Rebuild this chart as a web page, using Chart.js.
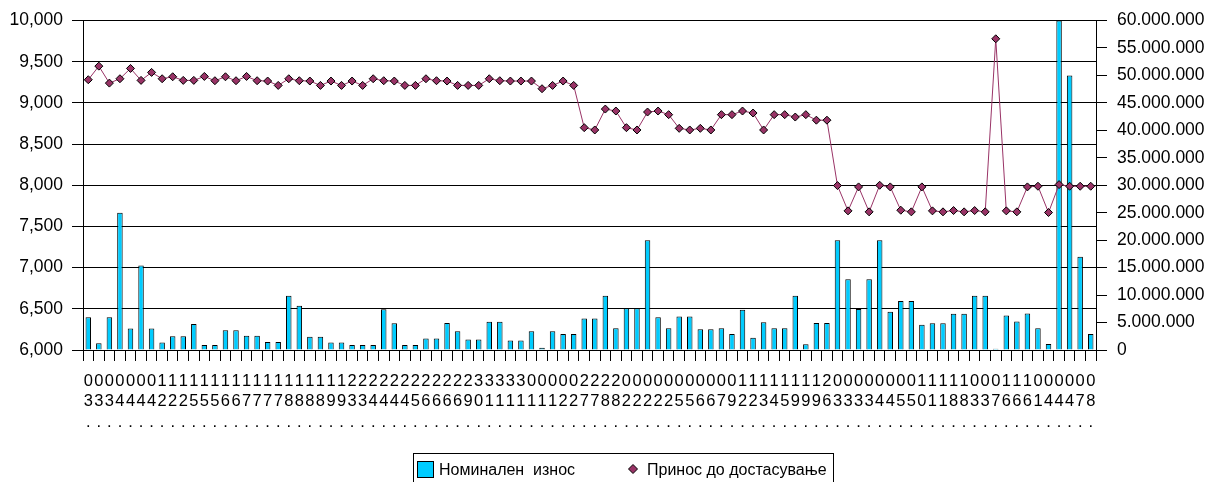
<!DOCTYPE html>
<html>
<head>
<meta charset="utf-8">
<title>Номинален износ / Принос до достасување</title>
<script src="https://cdn.jsdelivr.net/npm/chart.js@4/dist/chart.umd.min.js"></script>
<style>
  body { margin: 0; background: #fff; }
  #wrap { width: 1221px; height: 482px; position: relative; }
</style>
</head>
<body>
<div id="wrap"><canvas id="myChart"></canvas></div>
<script>
'use strict';

// DATA
// day part of each auction date (only "dd." is readable on the axis)
let dayLabels = [
  '03', '03', '03', '04', '04', '04', '04', '12', '12', '12', '15', '15', '15', '16',
  '16', '17', '17', '17', '17', '18', '18', '18', '18', '19', '19', '23', '23', '24',
  '24', '24', '24', '25', '26', '26', '26', '26', '29', '30', '31', '31', '31', '31',
  '01', '01', '01', '02', '02', '27', '27', '28', '28', '02', '02', '02', '02', '02',
  '05', '05', '06', '06', '07', '09', '12', '12', '13', '14', '15', '19', '19', '19',
  '26', '03', '03', '03', '03', '04', '04', '05', '05', '10', '11', '11', '18', '18',
  '03', '03', '07', '16', '16', '16', '01', '04', '04', '04', '07', '08'
];

// Номинален износ (bars, right axis)
let nominalAmount = [
  5950000, 1250000, 5950000, 25000000, 3900000, 15400000, 3900000, 1350000,
  2500000, 2500000, 4750000, 900000, 900000, 3600000, 3600000, 2600000,
  2600000, 1450000, 1450000, 9900000, 8050000, 2400000, 2400000, 1350000,
  1350000, 900000, 900000, 900000, 7400000, 4850000, 900000, 900000,
  2100000, 2100000, 4900000, 3400000, 1900000, 1900000, 5150000, 5150000,
  1750000, 1750000, 3400000, 400000, 3400000, 2900000, 2900000, 5750000,
  5750000, 9900000, 3950000, 7600000, 7600000, 20000000, 5950000, 3950000,
  6100000, 6100000, 3800000, 3800000, 3950000, 2900000, 7350000, 2250000,
  5050000, 3950000, 3950000, 9900000, 1050000, 4900000, 4900000, 20000000,
  12900000, 7450000, 12900000, 20000000, 6950000, 8900000, 8900000, 4600000,
  4850000, 4850000, 6600000, 6600000, 9900000, 9900000, 250000, 6300000,
  5200000, 6650000, 3950000, 1100000, 60000000, 50000000, 17000000, 2900000
];

// Принос до достасување (line, left axis)
let yieldToMaturity = [
  9281, 9446, 9240, 9293, 9418, 9273, 9370, 9293, 9317, 9273, 9273, 9321,
  9269, 9317, 9269, 9321, 9269, 9265, 9212, 9293, 9269, 9265, 9212, 9265,
  9212, 9265, 9212, 9293, 9269, 9265, 9212, 9212, 9293, 9269, 9265, 9212,
  9212, 9212, 9293, 9269, 9265, 9265, 9265, 9172, 9212, 9265, 9212, 8699,
  8671, 8925, 8901, 8699, 8671, 8889, 8901, 8857, 8691, 8671, 8691, 8671,
  8857, 8857, 8901, 8877, 8671, 8857, 8857, 8828, 8857, 8790, 8790, 7996,
  7689, 7980, 7677, 8000, 7980, 7697, 7677, 7980, 7689, 7677, 7693, 7677,
  7693, 7677, 9778, 7689, 7677, 7980, 7988, 7669, 8008, 7988, 7988, 7988
];

// axis ranges
let leftMin = 6000;
let leftMax = 10000;
let leftStep = 500;
let rightMin = 0;
let rightMax = 60000000;
let rightStep = 5000000;

let fontFamily = '"Liberation Sans", Arial, sans-serif';

// HELPERS
function commaFormat(value) {
  return Number(value).toLocaleString('en-US');
}

function dotFormat(value) {
  return String(value).replace(/\B(?=(\d{3})+(?!\d))/g, '.');
}

// legend drawn as a framed box under the axis, like the spreadsheet one
const legendBox = {
  id: 'legendBox',
  afterDraw(chart) {
    let ctx = chart.ctx;
    let bars = chart.data.datasets[0];
    let line = chart.data.datasets[1];

    ctx.save();
    ctx.lineWidth = 1;
    ctx.strokeStyle = '#000';
    ctx.strokeRect(413.5, 453.5, 420, 40);

    ctx.fillStyle = bars.backgroundColor;
    ctx.fillRect(417.5, 461.5, 16, 16);
    ctx.strokeRect(417.5, 461.5, 16, 16);

    ctx.fillStyle = line.pointBackgroundColor;
    ctx.strokeStyle = line.pointBorderColor;
    Chart.helpers.drawPoint(ctx, { pointStyle: 'rectRot', radius: 4.5, borderWidth: 1, rotation: 0 }, 633, 469);

    ctx.fillStyle = '#000';
    ctx.font = '16px ' + fontFamily;
    ctx.textBaseline = 'alphabetic';
    ctx.textAlign = 'left';
    ctx.fillText(bars.label, 439, 475);
    ctx.fillText(line.label, 647, 475);
    ctx.restore();
  }
};

// CHART
let canvasElem = document.getElementById('myChart').getContext('2d');

let myChartObj = {
  type: 'bar',
  data: {
    labels: dayLabels.map(d => [d[0], d[1], '.']),
    datasets: [
      {
        label: 'Номинален  износ',
        data: nominalAmount,
        yAxisID: 'y1',
        backgroundColor: '#00CCFF',
        borderColor: '#000',
        borderWidth: 1,
        barPercentage: 0.52,
        categoryPercentage: 1,
        order: 2,
      },
      {
        type: 'line',
        label: 'Принос до достасување',
        data: yieldToMaturity,
        yAxisID: 'y',
        borderColor: '#993366',
        borderWidth: 1,
        pointStyle: 'rectRot',
        pointRadius: 4,
        pointBackgroundColor: '#993366',
        pointBorderColor: '#000',
        pointBorderWidth: 1,
        tension: 0,
        order: 1,
      },
    ],
  },
  options: {
    responsive: true,
    maintainAspectRatio: false,
    devicePixelRatio: 1,
    animation: false,
    layout: { padding: { top: 20, left: 10, right: 0, bottom: 40 } },
    plugins: {
      legend: { display: false },
      tooltip: { enabled: false },
    },
    scales: {
      x: {
        offset: true,
        afterFit: function (scale) { scale.height = 92; },
        border: { display: true, color: '#000', width: 1 },
        grid: { offset: true, drawOnChartArea: false, drawTicks: true, tickLength: 11, color: '#000' },
        ticks: {
          autoSkip: false,
          maxRotation: 0,
          minRotation: 0,
          padding: 10,
          color: '#000',
          font: { family: fontFamily, size: 16.5, lineHeight: '20.5px' },
        },
      },
      y: {
        position: 'left',
        min: leftMin,
        max: leftMax,
        afterFit: function (scale) { scale.width = 73; },
        border: { display: true, color: '#000', width: 1 },
        grid: { color: '#000', tickLength: 11, drawTicks: true },
        ticks: {
          stepSize: leftStep,
          padding: 9,
          color: '#000',
          font: { family: fontFamily, size: 17.5 },
          callback: commaFormat,
        },
      },
      y1: {
        position: 'right',
        min: rightMin,
        max: rightMax,
        afterFit: function (scale) { scale.width = 125; },
        border: { display: true, color: '#000', width: 1 },
        grid: { drawOnChartArea: false, drawTicks: true, tickLength: 11, color: '#000' },
        ticks: {
          stepSize: rightStep,
          padding: 10,
          color: '#000',
          font: { family: fontFamily, size: 17.5 },
          callback: dotFormat,
        },
      },
    },
  },
  plugins: [legendBox],
};

new Chart(canvasElem, myChartObj);
</script>
</body>
</html>
